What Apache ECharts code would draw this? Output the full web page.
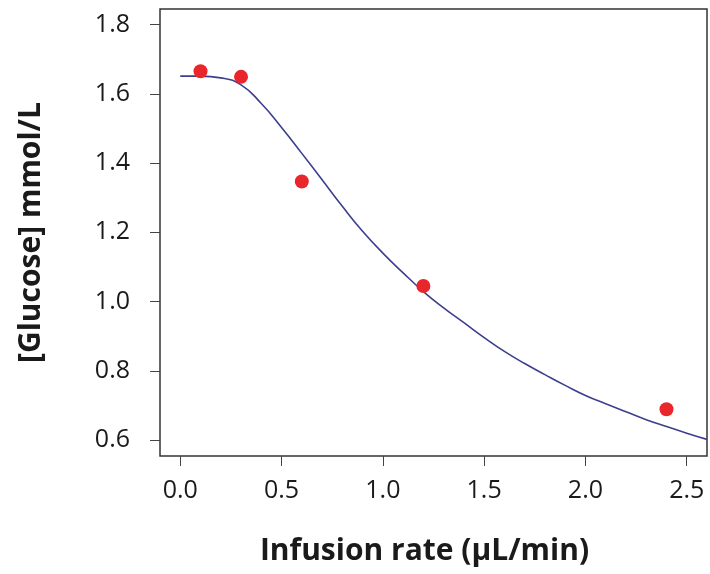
<!DOCTYPE html>
<html>
<head>
<meta charset="utf-8">
<script src="https://cdn.jsdelivr.net/npm/echarts@6/dist/echarts.min.js"></script>
<style>
html,body{margin:0;padding:0;background:#ffffff;}
#chart{width:710px;height:574px;}
</style>
</head>
<body>
<div id="chart"></div>
<script>
// Measured data points
var pointX = [0.1, 0.3, 0.6, 1.2, 2.4];
var pointY = [1.665, 1.649, 1.347, 1.045, 0.689];

// Fitted curve
var curveX = [0, 0.1, 0.2, 0.3, 0.4, 0.5, 0.6, 0.7, 0.8, 0.9, 1.0, 1.1, 1.2, 1.3, 1.4, 1.5, 1.6, 1.7, 1.8, 1.9, 2.0, 2.1, 2.2, 2.3, 2.4, 2.5, 2.6];
var curveY = [1.651, 1.651, 1.646, 1.626, 1.572, 1.503, 1.428, 1.352, 1.275, 1.203, 1.140, 1.083, 1.029, 0.982, 0.939, 0.896, 0.856, 0.821, 0.789, 0.758, 0.729, 0.705, 0.682, 0.659, 0.639, 0.620, 0.602];

// Tick labels
var xTicks = [0.0, 0.5, 1.0, 1.5, 2.0, 2.5];
var yTicks = [0.6, 0.8, 1.0, 1.2, 1.4, 1.6, 1.8];

var xTitle = 'Infusion rate (\u00b5L/min)';
var yTitle = '[Glucose] mmol/L';

var chart = echarts.init(document.getElementById('chart'), null, {renderer: 'canvas'});
var FONT = '"Open Sans", "Noto Sans", sans-serif';

var option = {
  backgroundColor: '#ffffff',
  animation: false,
  grid: {
    left: 160, right: 3, top: 9, bottom: 118,
    show: true, borderColor: '#333333', borderWidth: 1.5, backgroundColor: 'transparent'
  },
  xAxis: {
    type: 'value',
    min: -0.1, max: 2.6,
    name: xTitle,
    nameLocation: 'middle',
    nameGap: 80,
    nameTextStyle: {fontFamily: FONT, fontWeight: 'bold', fontSize: 30, color: '#1a1a1a', padding: [0, 18, 0, 0]},
    axisLine: {show: false, onZero: false},
    splitLine: {show: false},
    axisTick: {show: true, inside: false, length: 10, customValues: xTicks, lineStyle: {color: '#444444', width: 1}},
    axisLabel: {
      customValues: xTicks,
      margin: 22,
      fontFamily: FONT, fontSize: 25, color: '#1a1a1a',
      formatter: function (v) { return Number(v).toFixed(1); }
    }
  },
  yAxis: {
    type: 'value',
    min: 0.554, max: 1.845,
    name: yTitle,
    nameLocation: 'middle',
    nameGap: 114,
    nameTextStyle: {fontFamily: FONT, fontWeight: 'bold', fontSize: 30, color: '#1a1a1a'},
    axisLine: {show: false, onZero: false},
    splitLine: {show: false},
    axisTick: {show: true, inside: false, length: 10, customValues: yTicks, lineStyle: {color: '#444444', width: 1}},
    axisLabel: {
      customValues: yTicks,
      margin: 30,
      fontFamily: FONT, fontSize: 25, color: '#1a1a1a',
      formatter: function (v) { return Number(v).toFixed(1); }
    }
  },
  series: [
    {
      type: 'line',
      data: curveX.map(function (x, i) { return [x, curveY[i]]; }),
      smooth: 0.5,
      showSymbol: false,
      symbol: 'none',
      lineStyle: {color: '#3c3f8e', width: 1.6},
      z: 2
    },
    {
      type: 'scatter',
      data: pointX.map(function (x, i) { return [x, pointY[i]]; }),
      symbol: 'circle',
      symbolSize: 14,
      itemStyle: {color: '#e8262b', opacity: 1},
      z: 3
    }
  ]
};
chart.setOption(option);
</script>
</body>
</html>
